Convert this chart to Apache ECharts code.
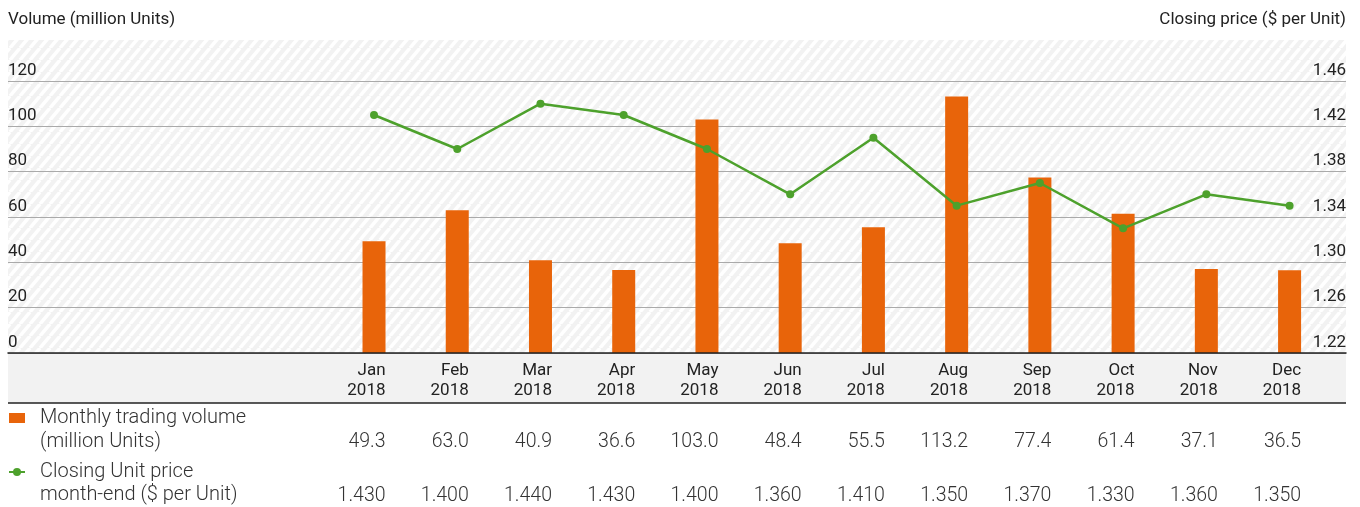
<!DOCTYPE html>
<html>
<head>
<meta charset="utf-8">
<script src="https://cdn.jsdelivr.net/npm/echarts@6/dist/echarts.min.js"></script>
<style>
  html, body { margin: 0; padding: 0; background: #fff; }
  #chart { width: 1360px; height: 507px; }
</style>
</head>
<body>
<div id="chart"></div>
<script>
// datos
const months = ['Jan', 'Feb', 'Mar', 'Apr', 'May', 'Jun', 'Jul', 'Aug', 'Sep', 'Oct', 'Nov', 'Dec'];
const year = '2018';
const volume = [49.3, 63.0, 40.9, 36.6, 103.0, 48.4, 55.5, 113.2, 77.4, 61.4, 37.1, 36.5];
const price = [1.430, 1.400, 1.440, 1.430, 1.400, 1.360, 1.410, 1.350, 1.370, 1.330, 1.360, 1.350];
const volumeAxis = [0, 120, 20];      // min, max, interval
const priceAxis = [1.22, 1.46, 0.04];

const ORANGE = '#E8640A';
const GREEN = '#4DA12C';
const FONT = 'Roboto';

// fondo rayado
function stripes() {
    const c = document.createElement('canvas');
    c.width = 10; c.height = 12;
    const g = c.getContext('2d');
    g.fillStyle = '#f2f2f2';
    g.fillRect(0, 0, 10, 12);
    g.strokeStyle = '#ffffff';
    g.lineWidth = 3.5;
    for (const dx of [-10, 0, 10]) {
        g.beginPath();
        g.moveTo(dx, 12);
        g.lineTo(dx + 10, 0);
        g.stroke();
    }
    return c;
}

const myChart = echarts.init(document.getElementById('chart'), null, { renderer: 'canvas' });

const plotLeft = 8, plotRight = 1346, plotTop = 40, axisY = 353;

const option = {
    animation: false,
    textStyle: { fontFamily: FONT },
    grid: [
        { left: 8, right: 14, top: 81, bottom: 507 - axisY },
        { left: 332.4, right: 28.8, top: 81, bottom: 507 - axisY },
        { left: 343.9, right: 17.3, top: 300, bottom: 507 - axisY }
    ],
    xAxis: [
        {
            gridIndex: 0, type: 'category', data: [''],
            axisLine: { show: true, lineStyle: { color: '#222', width: 1.5 } },
            axisTick: { show: false }, axisLabel: { show: false }, z: 5
        },
        {
            gridIndex: 1, type: 'category', data: months, show: false
        },
        {
            gridIndex: 2, type: 'category', data: months, position: 'bottom',
            axisLine: { show: false }, axisTick: { show: false },
            axisLabel: {
                align: 'right', margin: 8, lineHeight: 19.5, fontSize: 17,
                color: '#222', fontFamily: FONT,
                formatter: v => v + '\n' + year
            }
        },
        {
            gridIndex: 2, type: 'category', data: months, position: 'bottom',
            axisLine: { show: false }, axisTick: { show: false },
            axisLabel: {
                align: 'right', margin: 78, lineHeight: 22, fontSize: 19.5, fontWeight: 300,
                color: '#333', fontFamily: FONT,
                formatter: (v, i) => volume[i].toFixed(1)
            }
        },
        {
            gridIndex: 2, type: 'category', data: months, position: 'bottom',
            axisLine: { show: false }, axisTick: { show: false },
            axisLabel: {
                align: 'right', margin: 132, lineHeight: 22, fontSize: 19.5, fontWeight: 300,
                color: '#333', fontFamily: FONT,
                formatter: (v, i) => price[i].toFixed(3)
            }
        }
    ],
    yAxis: [
        {
            gridIndex: 0, type: 'value', position: 'left',
            min: volumeAxis[0], max: volumeAxis[1], interval: volumeAxis[2],
            axisLine: { show: false }, axisTick: { show: false },
            splitLine: { show: true, lineStyle: { color: '#aaaaaa', width: 1.2 } },
            axisLabel: {
                inside: true, margin: 0, verticalAlign: 'bottom', padding: [0, 0, 2, 0],
                fontSize: 17, color: '#222', fontFamily: FONT
            }
        },
        {
            gridIndex: 0, type: 'value', position: 'right',
            min: priceAxis[0], max: priceAxis[1], interval: priceAxis[2],
            axisLine: { show: false }, axisTick: { show: false }, splitLine: { show: false },
            axisLabel: {
                inside: true, margin: 0, verticalAlign: 'bottom', padding: [0, 0, 2, 0],
                fontSize: 17, color: '#222', fontFamily: FONT,
                formatter: v => v.toFixed(2)
            }
        },
        {
            gridIndex: 1, type: 'value', show: false,
            min: volumeAxis[0], max: volumeAxis[1], interval: volumeAxis[2]
        },
        {
            gridIndex: 1, type: 'value', show: false,
            min: priceAxis[0], max: priceAxis[1], interval: priceAxis[2]
        },
        { gridIndex: 2, type: 'value', show: false }
    ],
    graphic: [
        {
            type: 'rect', z: -10, silent: true,
            shape: { x: plotLeft, y: plotTop, width: plotRight - plotLeft, height: axisY - plotTop },
            style: { fill: { image: stripes(), repeat: 'repeat' } }
        },
        {
            type: 'rect', z: -10, silent: true,
            shape: { x: plotLeft, y: axisY, width: plotRight - plotLeft, height: 50 },
            style: { fill: '#f2f2f2' }
        },
        {
            type: 'line', silent: true,
            shape: { x1: plotLeft, y1: 403, x2: plotRight, y2: 403 },
            style: { stroke: '#222', lineWidth: 1.5 }
        },
        {
            type: 'text', left: 8, top: 11,
            style: { text: 'Volume (million Units)', font: '17px Roboto', fill: '#222' }
        },
        {
            type: 'text', right: 1360 - plotRight, top: 11,
            style: { text: 'Closing price ($ per Unit)', font: '17px Roboto', fill: '#222' }
        },
        // leyenda de la tabla
        {
            type: 'rect', shape: { x: 9, y: 413, width: 16, height: 10 },
            style: { fill: ORANGE }
        },
        {
            type: 'text', left: 40, top: 406,
            style: {
                text: 'Monthly trading volume\n(million Units)',
                font: '300 20px Roboto', lineHeight: 24, fill: '#333'
            }
        },
        {
            type: 'line', shape: { x1: 9, y1: 472, x2: 25, y2: 472 },
            style: { stroke: GREEN, lineWidth: 2 }
        },
        {
            type: 'circle', shape: { cx: 17, cy: 472, r: 4 },
            style: { fill: GREEN }
        },
        {
            type: 'text', left: 40, top: 460,
            style: {
                text: 'Closing Unit price\nmonth-end ($ per Unit)',
                font: '300 20px Roboto', lineHeight: 23, fill: '#333'
            }
        }
    ],
    series: [
        {
            name: 'Monthly trading volume (million Units)',
            type: 'bar',
            xAxisIndex: 1, yAxisIndex: 2,
            data: volume,
            barWidth: 23,
            itemStyle: { color: ORANGE }
        },
        {
            name: 'Closing Unit price month-end ($ per Unit)',
            type: 'line',
            xAxisIndex: 1, yAxisIndex: 3,
            data: price,
            symbol: 'circle', symbolSize: 8,
            lineStyle: { color: GREEN, width: 2.5 },
            itemStyle: { color: GREEN },
            z: 5
        }
    ]
};

option && myChart.setOption(option);
</script>
</body>
</html>
